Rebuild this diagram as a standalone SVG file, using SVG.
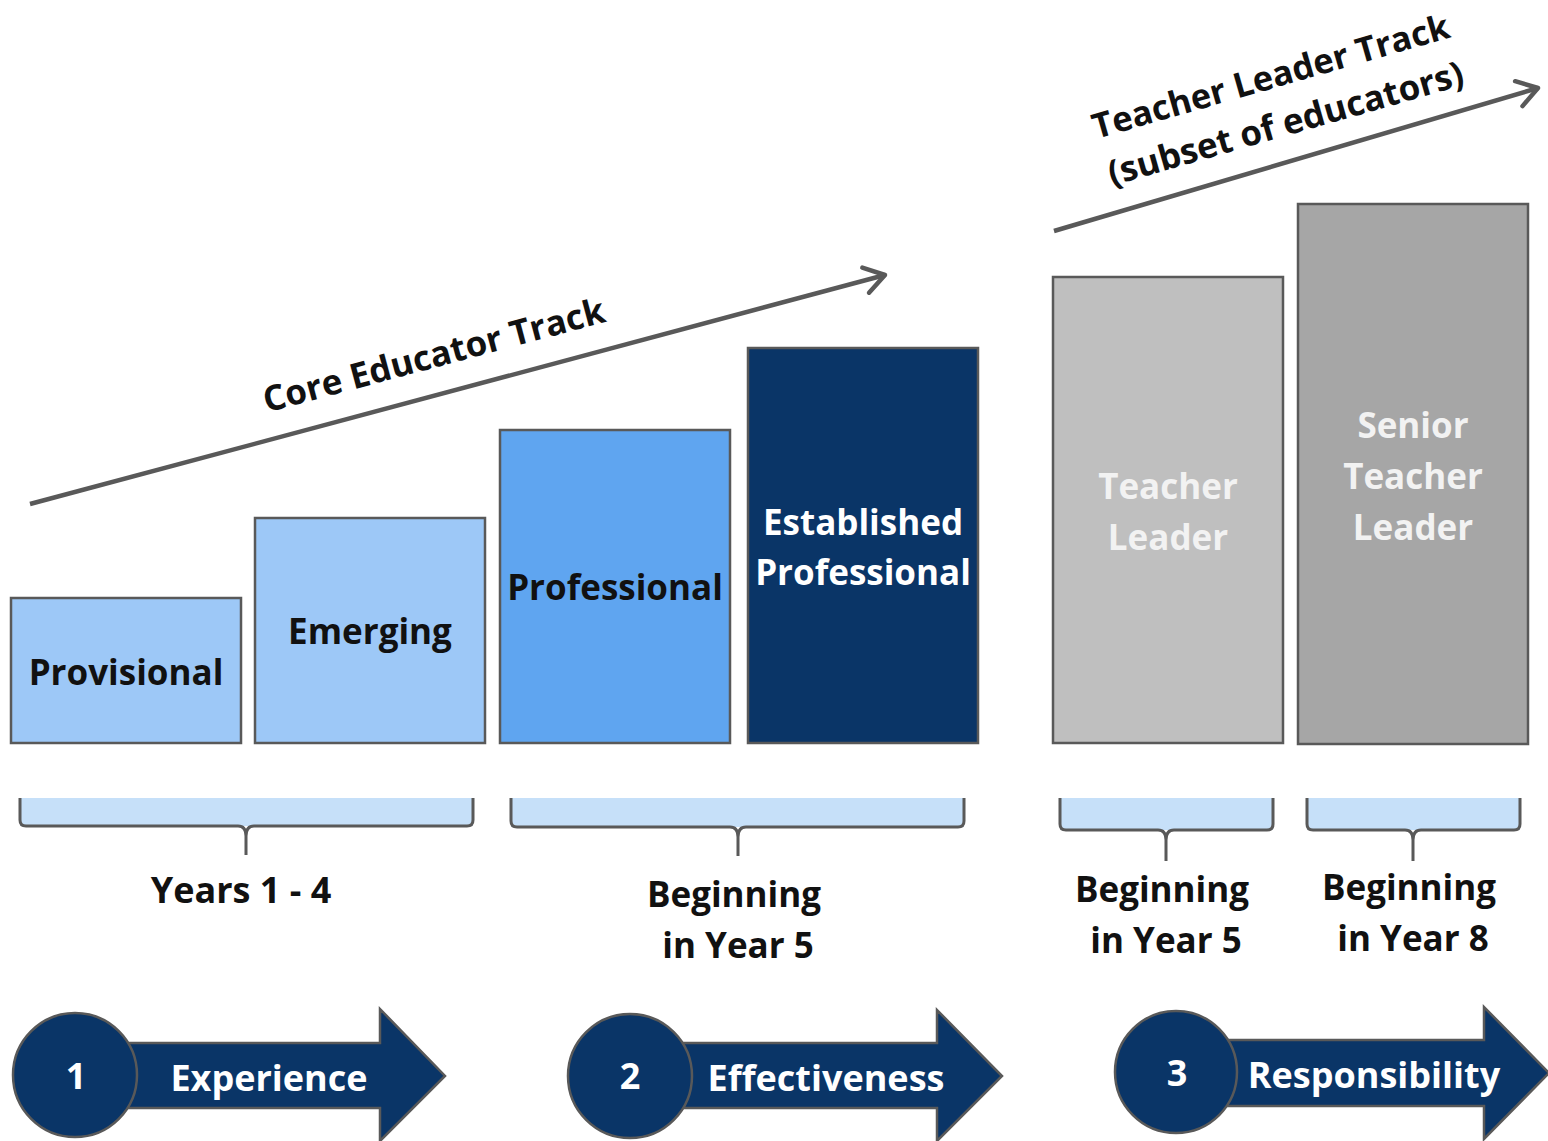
<svg xmlns="http://www.w3.org/2000/svg" width="1548" height="1141" viewBox="0 0 1548 1141">
<defs>
<style>
.t{font-family:"Open Sans","Liberation Sans",sans-serif;font-weight:bold;text-anchor:middle}
.box{stroke:#595959;stroke-width:2.5}
.dk{fill:#111111}
.wh{fill:#ffffff}
.gw{fill:#F2F2F2}
.brf{fill:#C6E0F9;stroke:none}
.brs{fill:none;stroke:#595959;stroke-width:3;stroke-linejoin:round}
.trk{stroke:#595959;stroke-width:4.5;fill:none}
.bar{fill:#0A3567;stroke:#595959;stroke-width:2.5}
</style>
<marker id="chev" markerUnits="userSpaceOnUse" markerWidth="40" markerHeight="40" viewBox="-30 -20 40 40" refX="0" refY="0" orient="auto">
<path d="M-20,-13 L0,0 L-20,13" fill="none" stroke="#595959" stroke-width="4.5" stroke-linecap="round" stroke-linejoin="round"/>
</marker>
</defs>
<rect width="1548" height="1141" fill="#ffffff"/>

<g id="connectors">
<line class="trk" x1="30" y1="504" x2="885" y2="275" marker-end="url(#chev)"/>
<line class="trk" x1="1054" y1="231" x2="1538" y2="88" marker-end="url(#chev)"/>
</g>

<g id="core-track-label">
<text class="t dk" font-size="35" transform="translate(437,367) rotate(-15)" x="0" y="0">Core Educator Track</text>
</g>
<g id="teacher-track-label">
<text class="t dk" font-size="34.5" transform="translate(1274,88) rotate(-16)" x="0" y="0">Teacher Leader Track</text>
<text class="t dk" font-size="35" transform="translate(1289,135) rotate(-16)" x="0" y="0">(subset of educators)</text>
</g>

<g id="provisional">
<rect class="box" x="11" y="598" width="230" height="145" fill="#9DC8F7"/>
<text class="t dk" font-size="35" x="126" y="685">Provisional</text>
</g>
<g id="emerging">
<rect class="box" x="255" y="518" width="230" height="225" fill="#9DC8F7"/>
<text class="t dk" font-size="35" x="370" y="644">Emerging</text>
</g>
<g id="professional">
<rect class="box" x="500" y="430" width="230" height="313" fill="#5FA5F0"/>
<text class="t dk" font-size="35" x="615" y="600">Professional</text>
</g>
<g id="established-professional">
<rect class="box" x="748" y="348" width="230" height="395" fill="#0A3567"/>
<text class="t wh" font-size="35" x="863" y="535">Established</text>
<text class="t wh" font-size="35" x="863" y="585">Professional</text>
</g>
<g id="teacher-leader">
<rect class="box" x="1053" y="277" width="230" height="466" fill="#BFBFBF"/>
<text class="t gw" font-size="35" x="1168" y="499">Teacher</text>
<text class="t gw" font-size="35" x="1168" y="550">Leader</text>
</g>
<g id="senior-teacher-leader">
<rect class="box" x="1298" y="204" width="230" height="540" fill="#A6A6A6"/>
<text class="t gw" font-size="35" x="1413" y="438">Senior</text>
<text class="t gw" font-size="35" x="1413" y="489">Teacher</text>
<text class="t gw" font-size="35" x="1413" y="540">Leader</text>
</g>

<g id="brace-years-1-4">
<rect class="brf" x="20" y="798" width="453" height="28"/>
<path class="brs" d="M20,798 L20,820 Q20,826 26,826 L238,826 Q246,826 246,836 L246,855 M246,836 Q246,826 254,826 L467,826 Q473,826 473,820 L473,798"/>
<text class="t dk" font-size="36" x="241" y="903">Years 1 - 4</text>
</g>
<g id="brace-beginning-year-5-core">
<rect class="brf" x="511" y="798" width="453" height="29"/>
<path class="brs" d="M511,798 L511,821 Q511,827 517,827 L730,827 Q738,827 738,837 L738,856 M738,837 Q738,827 746,827 L958,827 Q964,827 964,821 L964,798"/>
<text class="t dk" font-size="35" x="734" y="907">Beginning</text>
<text class="t dk" font-size="35" x="738" y="958">in Year 5</text>
</g>
<g id="brace-beginning-year-5-leader">
<rect class="brf" x="1060" y="798" width="213" height="32"/>
<path class="brs" d="M1060,798 L1060,824 Q1060,830 1066,830 L1158,830 Q1166,830 1166,840 L1166,861 M1166,840 Q1166,830 1174,830 L1267,830 Q1273,830 1273,824 L1273,798"/>
<text class="t dk" font-size="35" x="1162" y="902">Beginning</text>
<text class="t dk" font-size="35" x="1166" y="953">in Year 5</text>
</g>
<g id="brace-beginning-year-8">
<rect class="brf" x="1307" y="798" width="213" height="32"/>
<path class="brs" d="M1307,798 L1307,824 Q1307,830 1313,830 L1405,830 Q1413,830 1413,840 L1413,861 M1413,840 Q1413,830 1421,830 L1514,830 Q1520,830 1520,824 L1520,798"/>
<text class="t dk" font-size="35" x="1409" y="900">Beginning</text>
<text class="t dk" font-size="35" x="1413" y="951">in Year 8</text>
</g>

<g id="step-1-experience">
<path class="bar" d="M120,1043 L380,1043 L380,1009 L445,1076 L380,1141 L380,1108 L120,1108 Z"/>
<circle class="bar" cx="75" cy="1075" r="62"/>
<text class="t wh" font-size="36" x="76" y="1089">1</text>
<text class="t wh" font-size="36" x="269" y="1091">Experience</text>
</g>
<g id="step-2-effectiveness">
<path class="bar" d="M675,1043 L937,1043 L937,1010 L1002,1076 L937,1141 L937,1108 L675,1108 Z"/>
<circle class="bar" cx="630" cy="1076" r="62"/>
<text class="t wh" font-size="36" x="630" y="1089">2</text>
<text class="t wh" font-size="36" x="826" y="1091">Effectiveness</text>
</g>
<g id="step-3-responsibility">
<path class="bar" d="M1220,1040 L1484,1040 L1484,1007 L1549,1073 L1484,1139 L1484,1106 L1220,1106 Z"/>
<circle class="bar" cx="1176" cy="1072" r="61"/>
<text class="t wh" font-size="36" x="1177" y="1086">3</text>
<text class="t wh" font-size="36" x="1374" y="1088">Responsibility</text>
</g>
</svg>
